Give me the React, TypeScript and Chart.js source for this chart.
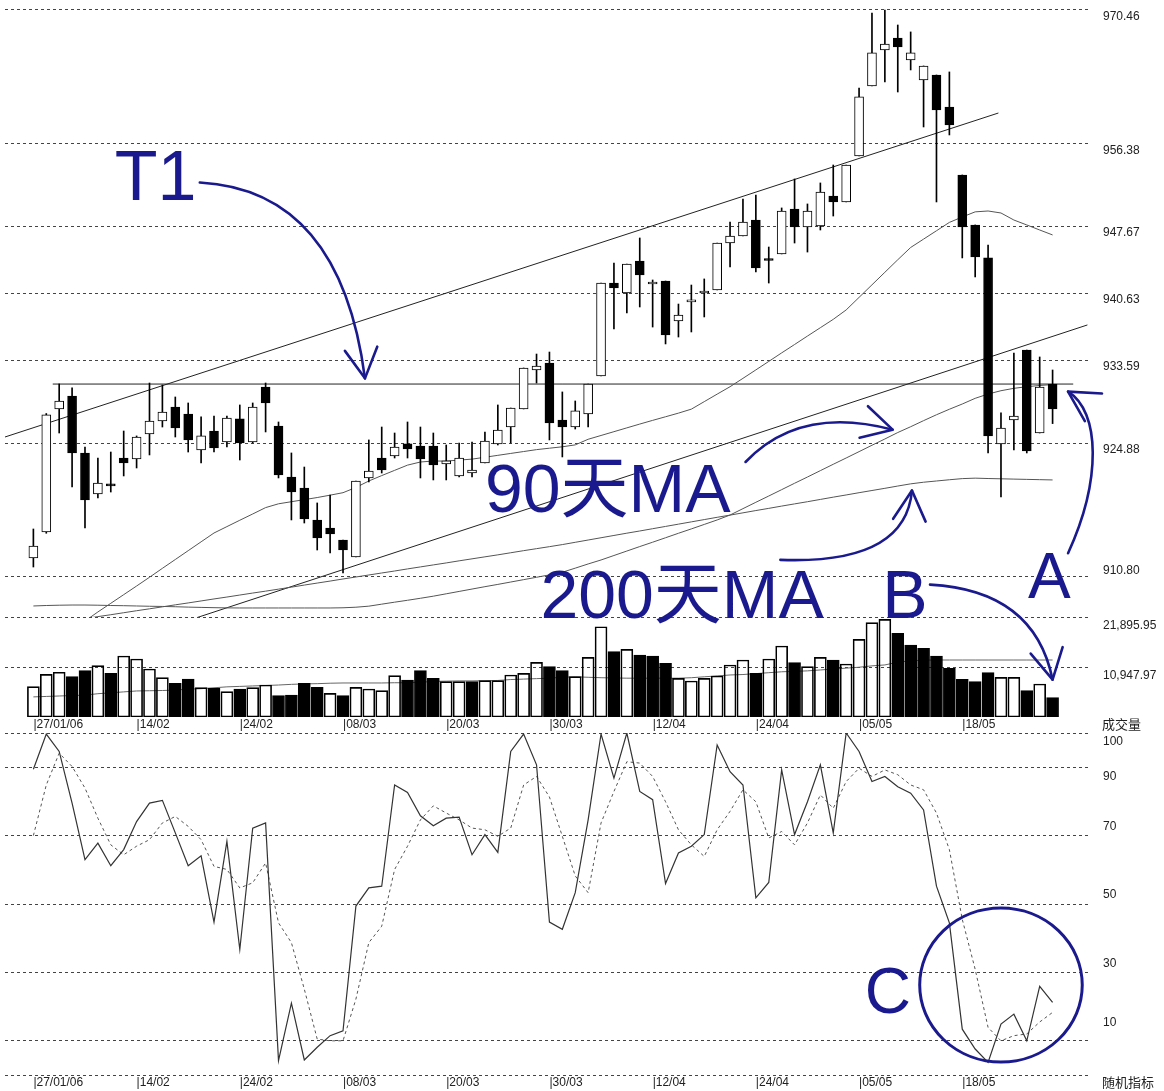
import React, { useEffect, useRef } from 'react';
import { Chart, registerables } from 'chart.js';

Chart.register(...registerables);

// ---------------- data ----------------
const dateLabels = ['27/01/06', '14/02', '24/02', '08/03', '20/03', '30/03', '12/04', '24/04', '05/05', '18/05'];
const DATE_STEP = 8;

const opens = [
  912.80, 915.54, 928.48, 929.84, 923.85, 919.53, 920.48, 923.32, 923.22, 925.85,
  927.21, 928.69, 927.95, 924.16, 926.16, 925.00, 927.43, 925.00, 930.79, 926.69,
  921.32, 920.16, 916.80, 915.95, 914.69, 912.90, 921.22, 923.32, 923.53, 924.80,
  924.58, 924.58, 922.69, 921.43, 921.74, 922.80, 924.80, 926.58, 928.48, 932.58,
  933.32, 927.32, 926.58, 927.95, 931.95, 941.73, 940.68, 944.05, 941.63, 941.94,
  937.74, 939.74, 940.68, 941.00, 945.94, 946.68, 948.36, 944.15, 944.79, 949.52,
  947.63, 947.73, 950.89, 950.26, 955.10, 962.46, 966.25, 967.51, 965.20, 963.09,
  963.62, 960.25, 953.10, 947.84, 944.37, 924.80, 927.32, 934.68, 925.95, 931.11,
];
const highs = [
  915.85, 928.00, 931.11, 930.69, 924.48, 923.32, 923.95, 926.16, 925.64, 931.21,
  931.00, 929.74, 929.11, 927.64, 927.74, 927.74, 928.90, 929.11, 931.21, 927.11,
  923.85, 922.37, 918.59, 919.43, 914.69, 920.90, 925.22, 926.58, 925.95, 927.11,
  926.58, 925.95, 924.69, 924.90, 925.00, 926.06, 928.90, 928.58, 932.79, 934.26,
  934.47, 930.27, 929.32, 931.11, 941.73, 943.84, 943.73, 946.47, 942.05, 941.94,
  939.52, 941.52, 942.16, 945.94, 948.15, 950.57, 950.99, 945.52, 949.63, 952.68,
  950.05, 952.26, 954.15, 954.15, 962.25, 970.14, 970.46, 968.88, 968.15, 964.57,
  963.62, 963.94, 953.10, 947.84, 945.73, 928.06, 934.37, 934.68, 933.95, 932.58,
];
const lows = [
  911.85, 915.40, 925.95, 920.27, 915.95, 919.11, 919.74, 921.43, 922.27, 923.64,
  926.58, 925.53, 923.95, 922.80, 923.95, 924.48, 923.11, 924.90, 926.06, 921.22,
  916.80, 916.48, 913.64, 913.33, 911.22, 912.90, 920.80, 921.74, 923.32, 923.32,
  921.22, 921.01, 921.01, 921.32, 921.32, 922.80, 924.69, 924.90, 928.48, 931.21,
  925.22, 923.43, 926.37, 926.58, 931.95, 936.89, 938.58, 939.21, 937.10, 935.32,
  936.05, 936.58, 938.16, 941.00, 943.42, 946.68, 942.89, 941.73, 944.79, 945.94,
  944.99, 947.31, 948.78, 950.26, 955.10, 962.46, 962.88, 961.83, 964.15, 958.15,
  950.26, 957.31, 944.37, 942.37, 923.85, 919.22, 924.16, 923.85, 925.95, 926.94,
];
const closes = [
  914.06, 927.85, 929.32, 923.85, 918.90, 920.69, 920.38, 922.80, 925.53, 927.21,
  928.16, 926.48, 925.22, 925.64, 924.37, 927.53, 924.90, 928.69, 929.11, 921.53,
  919.74, 916.90, 914.90, 915.32, 913.64, 920.90, 921.95, 922.06, 924.48, 924.27,
  923.22, 922.58, 923.01, 923.32, 922.06, 925.11, 926.27, 928.58, 932.79, 933.00,
  927.00, 926.58, 928.27, 931.11, 941.73, 941.21, 943.73, 942.58, 941.84, 936.26,
  938.37, 939.84, 940.74, 945.94, 946.68, 948.15, 943.31, 944.10, 949.31, 947.63,
  949.31, 951.31, 950.26, 954.15, 961.31, 965.94, 966.88, 966.57, 965.94, 964.57,
  959.94, 958.36, 947.63, 944.47, 925.64, 926.48, 927.74, 924.06, 930.79, 928.48,
];

const ma20 = [
  null, null, null, null, 906.17, 907.12, 908.03, 908.94, 909.85, 910.77,
  911.71, 912.64, 913.57, 914.50, 915.43, 916.10, 916.77, 917.43, 918.10, 918.50,
  918.72, 918.94, 919.16, 919.41, 919.67, 920.22, 920.90, 921.47, 922.02, 922.57,
  922.90, 923.00, 923.00, 923.10, 923.20, 923.40, 923.60, 923.80, 924.00, 924.20,
  924.35, 924.50, 924.70, 925.29, 925.69, 926.09, 926.49, 926.89, 927.28, 927.66,
  928.04, 928.46, 929.25, 930.04, 930.82, 931.70, 932.59, 933.48, 934.38, 935.26,
  936.15, 937.03, 937.91, 938.90, 940.22, 941.54, 942.86, 944.18, 945.47, 946.35,
  947.23, 948.11, 948.68, 949.22, 949.31, 949.10, 948.36, 947.84, 947.31, 946.79,
];
const ma90 = [
  907.75, 907.80, 907.83, 907.85, 907.85, 907.83, 907.80, 907.78, 907.75, 907.72,
  907.70, 907.67, 907.63, 907.60, 907.57, 907.55, 907.54, 907.54, 907.54, 907.54,
  907.54, 907.54, 907.54, 907.54, 907.56, 907.62, 907.73, 907.94, 908.15, 908.35,
  908.56, 908.78, 909.03, 909.28, 909.53, 909.78, 910.02, 910.27, 910.52, 910.77,
  911.02, 911.30, 911.73, 912.17, 912.59, 913.06, 913.53, 914.00, 914.46, 914.93,
  915.40, 915.86, 916.33, 916.80, 917.32, 917.99, 918.66, 919.32, 919.99, 920.66,
  921.32, 921.99, 922.66, 923.32, 923.99, 924.66, 925.32, 926.00, 926.61, 927.25,
  927.87, 928.45, 929.00, 929.60, 930.05, 930.40, 930.65, 930.82, 930.95, 931.05,
];
const ma200 = [
  null, null, null, null, 906.42, 906.63, 906.83, 907.04, 907.25, 907.45,
  907.66, 907.87, 908.07, 908.28, 908.49, 908.69, 908.90, 909.11, 909.31, 909.52,
  909.73, 909.95, 910.16, 910.37, 910.59, 910.80, 911.01, 911.22, 911.43, 911.65,
  911.86, 912.07, 912.28, 912.50, 912.71, 912.92, 913.13, 913.35, 913.57, 913.78,
  913.99, 914.21, 914.45, 914.69, 914.93, 915.17, 915.41, 915.64, 915.88, 916.12,
  916.36, 916.60, 916.84, 917.08, 917.31, 917.55, 917.79, 918.02, 918.26, 918.49,
  918.72, 918.96, 919.20, 919.43, 919.67, 919.90, 920.13, 920.37, 920.60, 920.77,
  920.90, 921.03, 921.15, 921.20, 921.16, 921.13, 921.10, 921.07, 921.04, 921.01,
];

const volumes = [
  6640, 9350, 9790, 8830, 10140, 11240, 9560, 13360, 12700, 10510,
  8610, 7370, 8320, 6420, 6280, 5550, 6130, 6420, 7010, 4670,
  4820, 7370, 6500, 5180, 4670, 6500, 6130, 5770, 9050, 8100,
  10140, 8470, 7740, 7740, 7740, 7960, 7960, 9200, 9560, 11970,
  11020, 10140, 8830, 13070, 19770, 14300, 14820, 13580, 13360, 11750,
  8470, 7880, 8470, 8980, 11390, 12480, 9560, 12700, 15550, 11900,
  11020, 13070, 12480, 11600, 17010, 20650, 21390, 18320, 15770, 15040,
  13360, 10660, 8250, 7740, 9710, 8690, 8690, 5770, 7230, 4230,
];
const volumeMA = [
  4400, 4500, 4600, 4700, 4800, 5100, 5300, 5500, 5700, 5750,
  5800, 5900, 6100, 6200, 6400, 6600, 6700, 6800, 6900, 7000,
  7150, 7250, 7300, 7400, 7450, 7450, 7450, 7450, 7500, 7500,
  7600, 7800, 7850, 7900, 7900, 7950, 8000, 8200, 8300, 8400,
  8500, 8700, 8800, 8700, 8600, 8550, 8500, 8500, 8500, 8500,
  8500, 8600, 8800, 9000, 9200, 9300, 9500, 9700, 9900, 10000,
  10100, 10300, 10500, 10700, 10900, 11200, 11400, 12000, 12300, 12450,
  12480, 12480, 12480, 12480, 12480, 12480, 12480, 12480, 12480, 12480,
];

const stochK = [
  89.4, 99.7, 94.6, 79.5, 63.0, 67.8, 61.2, 65.9, 74.1, 79.5,
  80.3, 70.8, 61.2, 64.1, 44.7, 68.3, 36.7, 72.2, 73.7, 4.2,
  21.0, 4.4, 8.1, 11.5, 12.9, 49.4, 54.7, 55.2, 84.8, 82.6,
  75.8, 72.9, 75.1, 75.4, 64.4, 70.3, 65.1, 94.6, 99.7, 90.7,
  44.7, 42.6, 53.3, 74.6, 99.7, 86.8, 100, 82.9, 80.5, 56.0,
  64.9, 66.9, 70.3, 96.5, 88.7, 84.8, 51.8, 56.3, 89.2, 70.3,
  79.9, 90.7, 70.8, 100, 94.6, 85.8, 87.3, 84.3, 82.4, 77.5,
  55.2, 44.5, 13.4, 7.6, 3.7, 14.9, 17.8, 10.0, 25.9, 21.2,
];
const stochD = [
  70.0, 84.8, 94.1, 90.2, 83.9, 75.1, 67.3, 64.4, 66.9, 68.8,
  73.7, 75.6, 72.7, 68.8, 61.0, 60.1, 54.7, 56.2, 62.0, 44.5,
  38.7, 25.1, 10.5, 10.0, 10.0, 22.2, 38.7, 43.5, 60.1, 66.9,
  74.6, 78.7, 76.6, 74.6, 72.2, 71.7, 69.8, 72.2, 84.8, 87.3,
  81.3, 69.8, 58.2, 53.3, 73.7, 82.9, 91.6, 91.2, 87.3, 79.9,
  71.7, 67.3, 63.9, 71.7, 77.1, 83.4, 79.9, 69.3, 71.2, 67.3,
  73.7, 81.9, 78.0, 85.8, 89.7, 87.3, 89.2, 87.8, 84.8, 83.4,
  76.6, 65.9, 45.5, 30.9, 13.9, 10.0, 11.5, 12.0, 15.5, 18.3,
];

const priceTicks = [970.46, 956.38, 947.67, 940.63, 933.59, 924.88, 910.80];
const volumeTicks = [10947.97, 21895.95];
const stochTicks = [0, 10, 30, 50, 70, 90, 100];

// trend lines: [candle index, price]
const trendUpper = [[-2.2, 925.53], [74.8, 959.62]];
const trendFlat = [[1.5, 931.1], [80.6, 931.1]];
const trendLower = [[12.6, 906.49], [81.7, 937.32]];

const volumeCaption = '成交量';
const stochCaption = '随机指标';

// ---------------- annotations (data space) ----------------
type Pt = [number, number];
type Note = { text: string; at: Pt; size: number };
type Ring = { center: Pt; radius: Pt };

const priceNotes: Note[] = [
  { text: 'T1', at: [6.3, 950.5], size: 70 },
  { text: '90天MA', at: [35.0, 917.6], size: 68 },
  { text: '200天MA', at: [39.3, 906.5], size: 68 },
  { text: 'B', at: [65.8, 906.5], size: 68 },
  { text: 'A', at: [77.1, 908.6], size: 64 },
];
const priceArrows: Pt[][] = [
  [[12.9, 952.3], [23.8, 951.5], [25.7, 931.7]],
  [[55.2, 922.9], [59.4, 928.9], [66.6, 926.3]],
  [[57.9, 912.6], [67.6, 912.1], [68.1, 919.9]],
  [[69.5, 910.0], [77.6, 909.4], [79.0, 900.0]],
  [[80.2, 913.3], [82.8, 921.0], [82.7, 928.2], [80.2, 930.3]],
];
const stochNotes: Note[] = [{ text: 'C', at: [64.45, 18.1], size: 64 }];
const stochRings: Ring[] = [{ center: [75.0, 26.3], radius: [6.3, 22.5] }];

// ---------------- layout / style ----------------
const W = 1164;
const PLOT_LEFT = 5;
const AXIS_W = 74;
const X_MIN = -2.2;
const X_MAX = 81.9;
const PRICE_MIN = 906.59;
const PRICE_MAX = 971.51;
const NAVY = '#1a1a8e';
const GRID = '#444';
const TEXT = '#222';

Chart.defaults.font.family = "'Liberation Sans', Arial, sans-serif";
Chart.defaults.color = TEXT;

const series = (arr: (number | null)[]) => arr.map((v, i) => ({ x: i, y: v }));
const segment = (pts: number[][]) => pts.map(([x, y]) => ({ x, y }));

function notesPlugin(notes: Note[], arrows: Pt[][], rings: Ring[]) {
  return {
    id: 'notes',
    afterDraw(chart: any) {
      const { ctx } = chart;
      const xs = chart.scales.x;
      const ys = chart.scales.y;
      const px = (p: Pt) => [xs.getPixelForValue(p[0]), ys.getPixelForValue(p[1])];
      ctx.save();
      ctx.strokeStyle = NAVY;
      ctx.fillStyle = NAVY;
      ctx.lineCap = 'round';
      ctx.lineJoin = 'round';
      ctx.lineWidth = 2.6;
      arrows.forEach((a) => {
        const p = a.map(px);
        ctx.beginPath();
        ctx.moveTo(p[0][0], p[0][1]);
        if (p.length === 3) ctx.quadraticCurveTo(p[1][0], p[1][1], p[2][0], p[2][1]);
        else ctx.bezierCurveTo(p[1][0], p[1][1], p[2][0], p[2][1], p[3][0], p[3][1]);
        ctx.stroke();
        const end = p[p.length - 1];
        const prev = p[p.length - 2];
        const ang = Math.atan2(end[1] - prev[1], end[0] - prev[0]);
        const L = 34;
        const th = 0.5;
        ctx.beginPath();
        ctx.moveTo(end[0] - L * Math.cos(ang - th), end[1] - L * Math.sin(ang - th));
        ctx.lineTo(end[0], end[1]);
        ctx.lineTo(end[0] - L * Math.cos(ang + th), end[1] - L * Math.sin(ang + th));
        ctx.stroke();
      });
      rings.forEach((r) => {
        const [cx, cy] = px(r.center);
        const rx = Math.abs(xs.getPixelForValue(r.center[0] + r.radius[0]) - cx);
        const ry = Math.abs(ys.getPixelForValue(r.center[1] + r.radius[1]) - cy);
        ctx.lineWidth = 3;
        ctx.beginPath();
        ctx.ellipse(cx, cy, rx, ry, 0, 0, Math.PI * 2);
        ctx.stroke();
      });
      notes.forEach((n) => {
        const [x, y] = px(n.at);
        ctx.font = `${n.size}px 'Liberation Sans', Arial, 'Noto Sans CJK SC', sans-serif`;
        ctx.textAlign = 'left';
        ctx.textBaseline = 'alphabetic';
        ctx.fillText(n.text, x, y);
      });
      ctx.restore();
    },
  };
}

function captionPlugin(text: string) {
  return {
    id: 'caption',
    afterDraw(chart: any) {
      const { ctx, chartArea } = chart;
      ctx.save();
      ctx.font = "13px 'Noto Sans CJK SC', sans-serif";
      ctx.fillStyle = TEXT;
      ctx.textAlign = 'left';
      ctx.textBaseline = 'top';
      ctx.fillText(text, chartArea.right + 12, chartArea.bottom + 1);
      ctx.restore();
    },
  };
}

const valueAxis = (min: number, max: number, ticks: number[], lineHeight: number, fmt: (v: number, i: number) => any) => ({
  type: 'linear',
  position: 'right',
  min,
  max,
  afterBuildTicks: (s: any) => {
    s.ticks = [...ticks].sort((a, b) => a - b).map((v) => ({ value: v }));
  },
  afterFit: (s: any) => {
    s.width = AXIS_W;
    s.paddingTop = 0;
    s.paddingBottom = 0;
  },
  grid: { color: GRID, lineWidth: 1, drawTicks: false },
  border: { display: false, dash: [3, 3] },
  ticks: { padding: 13, color: TEXT, autoSkip: false, font: { size: 12, lineHeight }, callback: fmt },
});

const dateAxis = () => ({
  type: 'linear',
  min: X_MIN,
  max: X_MAX,
  offset: false,
  afterBuildTicks: (s: any) => {
    s.ticks = dateLabels.map((_, k) => ({ value: k * DATE_STEP }));
  },
  afterFit: (s: any) => {
    s.height = 16;
    s.paddingLeft = 0;
    s.paddingRight = 0;
  },
  grid: { display: false, drawTicks: false, offset: false },
  border: { display: false },
  ticks: {
    align: 'start',
    padding: 0,
    autoSkip: false,
    maxRotation: 0,
    minRotation: 0,
    color: TEXT,
    font: { size: 12 },
    callback: (_v: number, i: number) => '|' + dateLabels[i],
  },
});

const baseOptions = {
  responsive: false,
  animation: false,
  devicePixelRatio: 1,
  events: [],
  plugins: { legend: { display: false }, tooltip: { enabled: false } },
};

function priceConfig(): any {
  const bodyColors = closes.map((c, i) => (c >= opens[i] ? '#ffffff' : '#000000'));
  const line = (data: any, color: string, order: number) => ({
    type: 'line',
    data,
    borderColor: color,
    borderWidth: 1,
    pointRadius: 0,
    tension: 0,
    order,
  });
  return {
    type: 'bar',
    data: {
      datasets: [
        line(segment(trendUpper), '#222', 5),
        line(segment(trendFlat), '#222', 5),
        line(segment(trendLower), '#222', 5),
        line(series(ma20), '#555', 4),
        line(series(ma90), '#555', 4),
        line(series(ma200), '#555', 4),
        {
          type: 'bar',
          data: lows.map((l, i) => ({ x: i, y: [l, highs[i]] })),
          backgroundColor: '#000',
          borderWidth: 0,
          barThickness: 1,
          grouped: false,
          order: 2,
        },
        {
          type: 'bar',
          data: opens.map((o, i) => ({ x: i, y: [o, closes[i]] })),
          backgroundColor: bodyColors,
          borderColor: '#000',
          borderWidth: 1,
          borderSkipped: false,
          barThickness: 9,
          minBarLength: 2,
          grouped: false,
          order: 1,
        },
      ],
    },
    options: {
      ...baseOptions,
      layout: { padding: { left: PLOT_LEFT, right: 0, top: 0, bottom: 83 } },
      scales: {
        x: { type: 'linear', min: X_MIN, max: X_MAX, offset: false, grid: { offset: false }, display: false },
        y: valueAxis(PRICE_MIN, PRICE_MAX, priceTicks, 1.1, (v: number, i: number) =>
          i === 0 ? [v.toFixed(2), ''] : ['', v.toFixed(2)]
        ),
      },
    },
    plugins: [notesPlugin(priceNotes, priceArrows, [])],
  };
}

function volumeConfig(): any {
  const volColors = closes.map((c, i) => (i === 0 || c >= closes[i - 1] ? 'rgba(255,255,255,0)' : '#000000'));
  return {
    type: 'bar',
    data: {
      datasets: [
        {
          type: 'line',
          data: series(volumeMA),
          borderColor: '#666',
          borderWidth: 1,
          pointRadius: 0,
          order: 3,
        },
        {
          type: 'bar',
          data: series(volumes),
          backgroundColor: volColors,
          borderColor: '#000',
          borderWidth: 1,
          borderSkipped: false,
          barThickness: 12,
          grouped: false,
          order: 1,
        },
      ],
    },
    options: {
      ...baseOptions,
      layout: { padding: { left: PLOT_LEFT, right: 0, top: 5, bottom: 0 } },
      scales: {
        x: dateAxis(),
        y: valueAxis(0, volumeTicks[1], volumeTicks, 1.4, (v: number) => [
          '',
          v.toLocaleString('en-US', { minimumFractionDigits: 2, maximumFractionDigits: 2 }),
        ]),
      },
    },
    plugins: [captionPlugin(volumeCaption)],
  };
}

function stochConfig(): any {
  return {
    type: 'line',
    data: {
      datasets: [
        { data: series(stochK), borderColor: '#333', borderWidth: 1.2, pointRadius: 0, tension: 0 },
        { data: series(stochD), borderColor: '#555', borderWidth: 1, borderDash: [3, 3], pointRadius: 0, tension: 0 },
      ],
    },
    options: {
      ...baseOptions,
      layout: { padding: { left: PLOT_LEFT, right: 0, top: 5, bottom: 0 } },
      scales: {
        x: dateAxis(),
        y: valueAxis(0, 100, stochTicks, 1.5, (v: number) => {
          if (v === 0) return '';
          if (v >= 90) return ['', String(v)];
          if (v === 10) return [String(v), '', ''];
          return [String(v), ''];
        }),
      },
    },
    plugins: [notesPlugin(stochNotes, [], stochRings), captionPlugin(stochCaption)],
  };
}

export default function App() {
  const priceRef = useRef<HTMLCanvasElement>(null);
  const volRef = useRef<HTMLCanvasElement>(null);
  const stochRef = useRef<HTMLCanvasElement>(null);

  useEffect(() => {
    const charts = [
      new Chart(volRef.current as HTMLCanvasElement, volumeConfig()),
      new Chart(stochRef.current as HTMLCanvasElement, stochConfig()),
      new Chart(priceRef.current as HTMLCanvasElement, priceConfig()),
    ];
    return () => charts.forEach((c) => c.destroy());
  }, []);

  return (
    <div style={{ position: 'absolute', left: 0, top: 0, width: W, height: 1091, background: '#fff', overflow: 'hidden' }}>
      <canvas ref={volRef} width={W} height={121} style={{ position: 'absolute', left: 0, top: 612 }} />
      <canvas ref={stochRef} width={W} height={363} style={{ position: 'absolute', left: 0, top: 728 }} />
      <canvas ref={priceRef} width={W} height={700} style={{ position: 'absolute', left: 0, top: 0 }} />
    </div>
  );
}
